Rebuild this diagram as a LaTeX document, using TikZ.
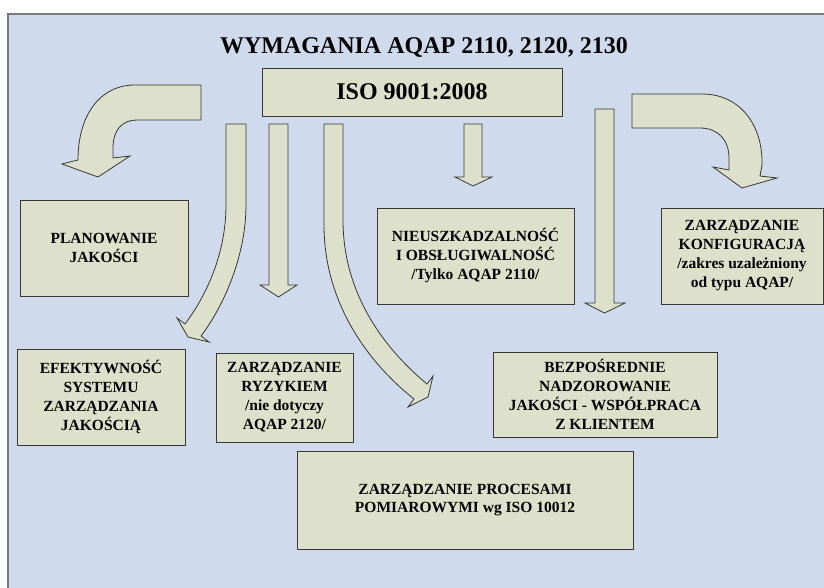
\documentclass[tikz,border=0pt]{standalone}
\usepackage{fontspec}
\setmainfont{Liberation Serif}
\definecolor{bgblue}{RGB}{207,219,237}
\definecolor{boxfill}{RGB}{221,225,203}
\definecolor{boxline}{RGB}{55,55,55}
\definecolor{frameline}{RGB}{120,120,120}
\begin{document}
\begin{tikzpicture}[x=1pt,y=-1pt,
  box/.style={draw=boxline, line width=0.9pt, fill=boxfill, align=center, inner sep=0pt,
    font=\fontsize{15.5}{19}\selectfont\bfseries},
  bigtext/.style={font=\fontsize{24}{28}\selectfont\bfseries},
  blockarrow/.style={draw=boxline, line width=0.8pt, fill=boxfill, line join=miter}]
\useasboundingbox (0,0) rectangle (824,588);
\clip (0,0) rectangle (824,588);
\fill[white] (0,0) rectangle (824,588);
\draw[frameline, line width=1.2pt, fill=bgblue] (8,14) rectangle (840,600);

% title and top box
\node[bigtext, anchor=base, inner sep=0pt] (title) at (424,54) {WYMAGANIA AQAP 2110, 2120, 2130};
\node[box, bigtext, minimum width=300pt, minimum height=48pt] (iso) at (412,92) {ISO 9001:2008};

% boxes
\node[box, minimum width=168pt, minimum height=96pt] (plan) at (104,248) {PLANOWANIE\\JAKOŚCI};
\node[box, minimum width=168pt, minimum height=96pt] (efekt) at (101,397) {EFEKTYWNOŚĆ\\SYSTEMU\\ZARZĄDZANIA\\JAKOŚCIĄ};
\node[box, minimum width=137pt, minimum height=89pt] (ryzyko) at (284.5,397.5) {ZARZĄDZANIE\\RYZYKIEM\\/nie dotyczy\\AQAP 2120/};
\node[box, minimum width=197pt, minimum height=96pt] (nieusz) at (475.5,256) {NIEUSZKADZALNOŚĆ\\I OBSŁUGIWALNOŚĆ\\/Tylko AQAP 2110/};
\node[box, minimum width=162pt, minimum height=96pt] (konfig) at (742,256) {ZARZĄDZANIE\\KONFIGURACJĄ\\/zakres uzależniony\\od typu AQAP/};
\node[box, minimum width=224pt, minimum height=85pt] (bezpo) at (605,394.5) {BEZPOŚREDNIE\\NADZOROWANIE\\JAKOŚCI - WSPÓŁPRACA\\Z KLIENTEM};
\node[box, minimum width=336pt, minimum height=98pt, font=\fontsize{15.5}{18}\selectfont\bfseries] (proces) at (465,500) {ZARZĄDZANIE PROCESAMI\\POMIAROWYMI wg ISO 10012};

% left curved arrow
\draw[blockarrow] (201,85) -- (135,85) .. controls (100,85) and (78,115) .. (78,160)
  -- (62,164) -- (98,177) -- (130,156) -- (113,158) -- (113,148)
  .. controls (113,130) and (122,120) .. (137,120) -- (201,120) -- cycle;

% right curved arrow
\draw[blockarrow] (632,94) -- (702,94) .. controls (740,94) and (763,125) .. (762,165)
  -- (760,176) -- (777,178) -- (742,188) -- (713,167) -- (729,170) -- (729,158)
  .. controls (729,140) and (718,128) .. (700,128) -- (632,128) -- cycle;

% curved arrow 1 (down-left)
\draw[blockarrow] (226,124) -- (246,124) -- (246,205)
  .. controls (246,250) and (228,300) .. (201,336)
  -- (209,342) -- (188,337) -- (177,318) -- (185,324)
  .. controls (209,292) and (226,250) .. (226,205) -- cycle;

% straight arrow 2
\draw[blockarrow] (269,124) -- (288,124) -- (288,285) -- (297,285) -- (278.5,297) -- (260,285) -- (269,285) -- cycle;

% curved arrow 3 (down-right)
\draw[blockarrow] (324,124) -- (343,124) -- (343,220)
  .. controls (343,290) and (380,345) .. (427,384)
  -- (433,376) -- (428,397) -- (408,407) -- (414,399)
  .. controls (365,360) and (324,300) .. (324,225) -- cycle;

% straight arrow 4
\draw[blockarrow] (464,124) -- (482,124) -- (482,177) -- (492,177) -- (473,186) -- (455,177) -- (464,177) -- cycle;

% straight arrow 5
\draw[blockarrow] (595,109) -- (614,109) -- (614,303) -- (625,303) -- (604.5,313) -- (585,303) -- (595,303) -- cycle;
\end{tikzpicture}
\end{document}
